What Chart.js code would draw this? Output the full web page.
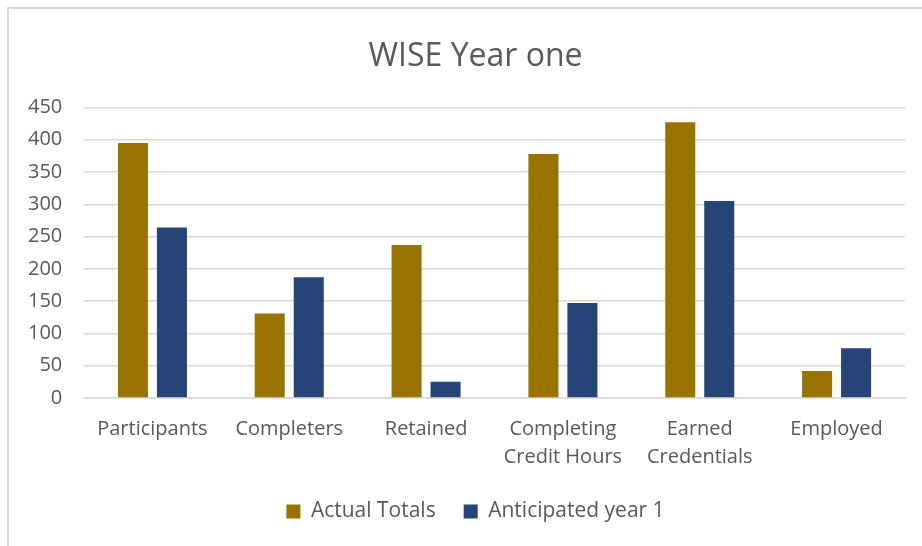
<!DOCTYPE html>
<html>
<head>
<meta charset="utf-8">
<script src="https://cdn.jsdelivr.net/npm/chart.js@4"></script>
<style>
  html, body { margin: 0; padding: 0; background: #fff; }
  #wrap { position: relative; width: 922px; height: 546px; }
  #frame { position: absolute; left: 7px; top: 7px; width: 940px; height: 560px;
           border-left: 2px solid #d9d9d9; border-top: 2px solid #d9d9d9; box-sizing: border-box; pointer-events: none; }
  canvas { position: absolute; left: 0; top: 0; }
</style>
</head>
<body>
<div id="wrap">
  <canvas id="c" width="922" height="546"></canvas>
  <div id="frame"></div>
</div>
<script>
const categories = ["Participants", "Completers", "Retained", ["Completing", "Credit Hours"], ["Earned", "Credentials"], "Employed"];
const actualTotals = [395, 131, 237, 378, 427, 42];
const anticipatedYear1 = [264, 187, 25, 147, 305, 77];
const yTicks = [0, 50, 100, 150, 200, 250, 300, 350, 400, 450];

const textColor = '#595959';
const fontFamily = '"Open Sans", "Liberation Sans", sans-serif';

new Chart(document.getElementById('c'), {
  type: 'bar',
  data: {
    labels: categories,
    datasets: [
      { label: 'Actual Totals', data: actualTotals, backgroundColor: '#997300', categoryPercentage: 0.57, barPercentage: 0.77 },
      { label: 'Anticipated year 1', data: anticipatedYear1, backgroundColor: '#264478', categoryPercentage: 0.57, barPercentage: 0.77 }
    ]
  },
  options: {
    responsive: false,
    animation: false,
    layout: { padding: { left: 46, right: 17, top: 0, bottom: 14 } },
    plugins: {
      title: {
        display: true,
        text: 'WISE Year one',
        color: textColor,
        font: { family: fontFamily, size: 32, weight: 'normal' },
        padding: { top: 38, bottom: 31 }
      },
      legend: {
        position: 'bottom',
        labels: {
          color: textColor,
          font: { family: fontFamily, size: 21 },
          boxWidth: 14,
          boxHeight: 14,
          padding: 28
        }
      },
      tooltip: { enabled: false }
    },
    scales: {
      x: {
        grid: { display: false, drawTicks: false },
        border: { display: true, color: '#d9d9d9', width: 1.5 },
        ticks: {
          color: textColor,
          font: { family: fontFamily, size: 20, lineHeight: 1.4 },
          padding: 17,
          maxRotation: 0,
          autoSkip: false
        },
        afterFit: s => { s.height = 75; }
      },
      y: {
        min: 0,
        max: 450,
        afterBuildTicks: s => { s.ticks = yTicks.map(v => ({ value: v })); },
        grid: { color: '#d9d9d9', lineWidth: 1.5, drawTicks: false },
        border: { display: false },
        ticks: {
          color: textColor,
          font: { family: fontFamily, size: 20 },
          mirror: true,
          crossAlign: 'far',
          padding: -56
        },
        afterFit: s => { s.width = 38; }
      }
    }
  }
});
</script>
</body>
</html>
